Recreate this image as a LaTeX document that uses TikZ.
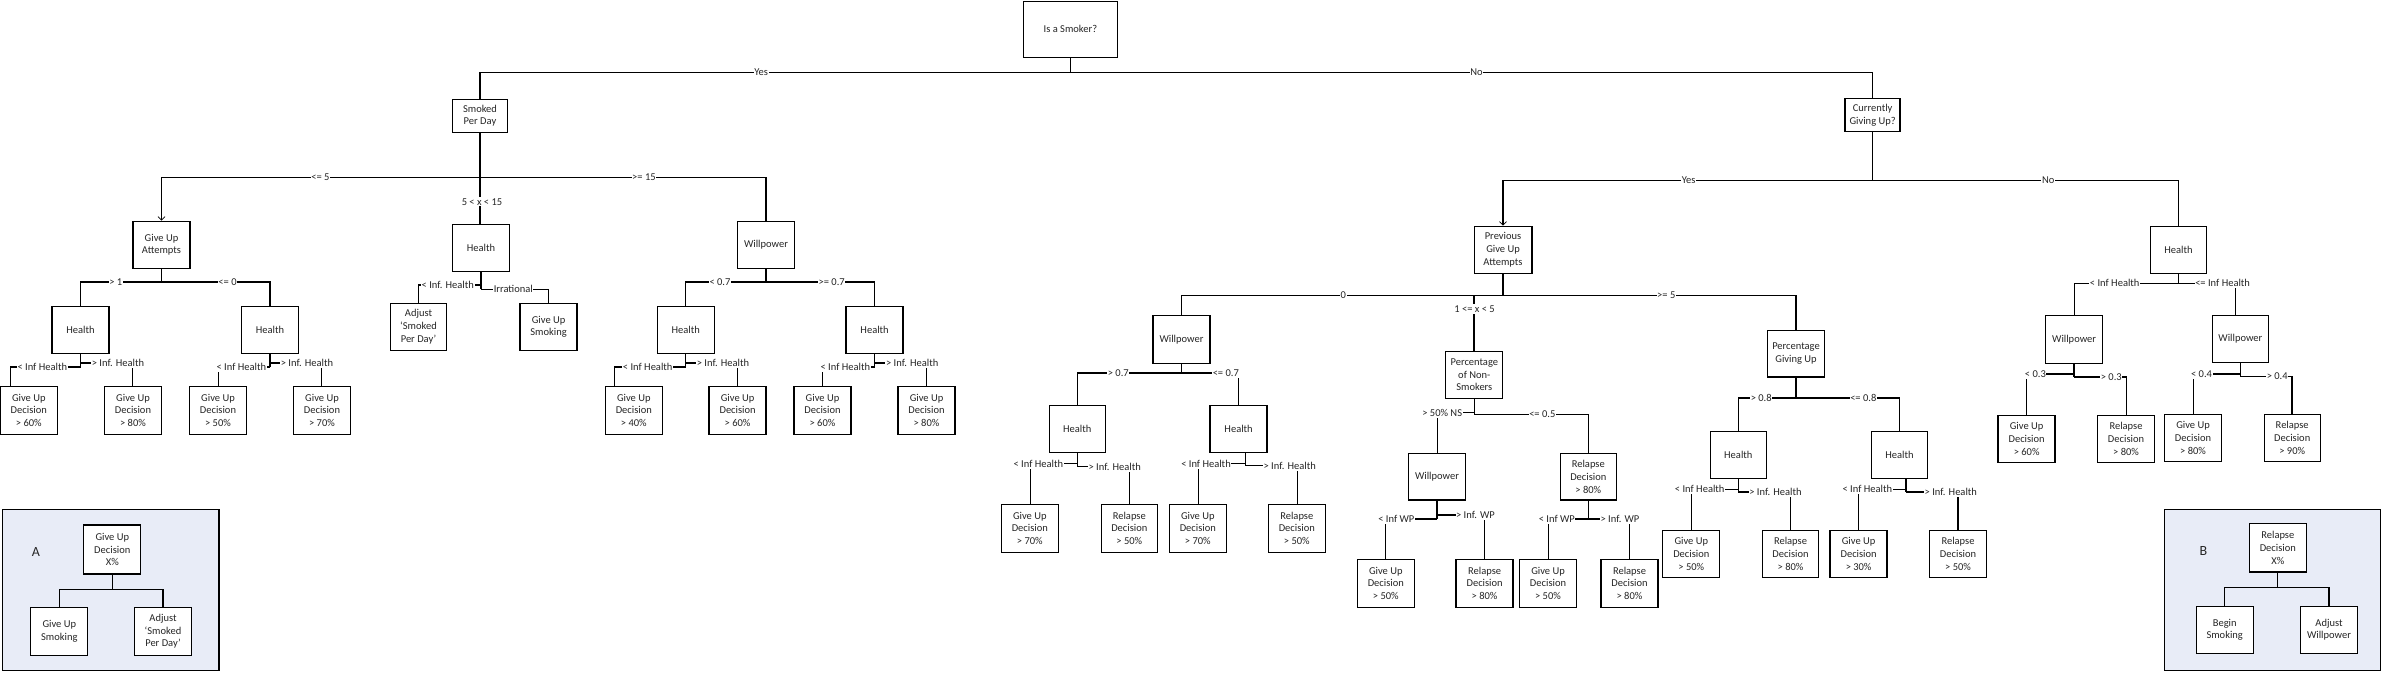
\documentclass[tikz,border=0pt]{standalone}
\usepackage{fontspec}
\setmainfont{Carlito}
\usetikzlibrary{arrows.meta}
\definecolor{legcol}{HTML}{E8ECF7}
\definecolor{txt}{HTML}{262626}
% stem from a parent down to the split level
\newcommand\stem[2]{\draw (#1.south) -- (#1.south |- 0,#2);}
\newcommand\stemx[3]{\draw (#1.south -| #2,0) -- (#2,#3);}
% branch from the split level under parent to a child (centred)
\newcommand\brc[4][]{\draw[#1] (#2.south |- 0,#3) -| (#4.north);}
% branch to a child, entering it at x
\newcommand\brn[5][]{\draw[#1] (#2.south |- 0,#3) -- (#4,#3) -- (#5.north -| #4,0);}
% branch from an offset stem at x=#3
\newcommand\brx[6][]{\draw[#1] (#2.south -| #3,0) ++(0,0) (#3,#4) -- (#5,#4) -- (#6.north -| #5,0);}
\begin{document}
\begin{tikzpicture}[x=1pt,y=-1pt,line width=1.3pt,
  box/.style={draw,fill=white,align=center,inner sep=0pt,minimum width=57pt,minimum height=47pt,font=\fontsize{10.5}{12.7}\selectfont,text=txt},
  leaf/.style={box,minimum height=48pt},
  small/.style={box,minimum width=55pt,minimum height=33pt},
  lbl/.style={fill=white,inner xsep=0.6pt,inner ysep=1.2pt,font=\fontsize{10.5}{12.7}\selectfont,text=txt},
  legbg/.style={draw,fill=legcol,inner sep=0pt,line width=1.1pt},
  letter/.style={font=\fontsize{14}{16}\selectfont,text=txt},
  arr/.style={-{Straight Barb[length=3.5pt,width=7pt,line width=0.8pt]}}]
\useasboundingbox (0,0) rectangle (2381,672);

% ---------- legends ----------
\node[legbg,minimum width=216.3pt,minimum height=161pt] (legA) at (110.85,589.8) {};
\node[letter] (letA) at (36,551.7) {A};
\node[box,minimum height=49pt] (la1) at (112.3,549.5) {Give Up\\Decision\\X\%};
\node[leaf] (la2) at (59.3,631.3) {Give Up\\Smoking};
\node[leaf] (la3) at (163,631.3) {Adjust\\‘Smoked\\Per Day’};
\stem{la1}{589.3}
\brc{la1}{589.3}{la2}
\brc{la1}{589.3}{la3}

\node[legbg,minimum width=216pt,minimum height=161pt] (legB) at (2272.3,589.8) {};
\node[letter] (letB) at (2203.3,551) {B};
\node[box,minimum height=48.7pt] (lb1) at (2277.8,547.7) {Relapse\\Decision\\X\%};
\node[box] (lb2) at (2224.7,629.8) {Begin\\Smoking};
\node[box] (lb3) at (2329,629.8) {Adjust\\Willpower};
\stem{lb1}{587.3}
\brc{lb1}{587.3}{lb2}
\brc{lb1}{587.3}{lb3}

% ---------- top ----------
\node[box,minimum width=94pt,minimum height=56pt] (root) at (1070.4,29.2) {Is a Smoker?};
\node[small] (spd) at (480,115.8) {Smoked\\Per Day};
\node[small] (cgu) at (1872.6,115) {Currently\\Giving Up?};

% ---------- left subtree ----------
\node[box] (gua) at (161.5,244.8) {Give Up\\Attempts};
\node[box] (hmid) at (481,247.8) {Health};
\node[box] (wp1) at (766,244.8) {Willpower};
\node[box] (h1) at (80.5,329.8) {Health};
\node[box] (h2) at (270,329.8) {Health};
\node[leaf] (l1) at (28.8,410.3) {Give Up\\Decision\\> 60\%};
\node[leaf] (l2) at (133,410.3) {Give Up\\Decision\\> 80\%};
\node[leaf] (l3) at (218,410.3) {Give Up\\Decision\\> 50\%};
\node[leaf] (l4) at (322,410.3) {Give Up\\Decision\\> 70\%};
\node[box,minimum width=56pt] (adj) at (418.5,326.8) {Adjust\\‘Smoked\\Per Day’};
\node[box] (gus) at (548.6,326.8) {Give Up\\Smoking};
\node[box] (h3) at (685.8,329.8) {Health};
\node[box] (h4) at (874.6,329.8) {Health};
\node[leaf] (l5) at (633.8,410.3) {Give Up\\Decision\\> 40\%};
\node[leaf] (l6) at (737.6,410.3) {Give Up\\Decision\\> 60\%};
\node[leaf] (l7) at (822.5,410.3) {Give Up\\Decision\\> 60\%};
\node[leaf] (l8) at (926.5,410.3) {Give Up\\Decision\\> 80\%};

% ---------- right subtree ----------
\node[box,minimum width=57.7pt] (pga) at (1503,249.8) {Previous\\Give Up\\Attempts};
\node[box,minimum width=56pt] (hno) at (2178.4,249.8) {Health};
\node[box,minimum height=48pt] (wp2) at (1181.5,339.3) {Willpower};
\node[box] (pns) at (1474.3,374.8) {Percentage\\of Non-\\Smokers};
\node[box,minimum height=46.7pt] (pgu) at (1796,353.7) {Percentage\\Giving Up};
\node[box,minimum width=56pt] (h5) at (1077.3,428.8) {Health};
\node[box] (h6) at (1238.6,428.8) {Health};
\node[leaf] (l9) at (1029.8,528.3) {Give Up\\Decision\\> 70\%};
\node[leaf,minimum width=56pt] (l10) at (1129.3,528.3) {Relapse\\Decision\\> 50\%};
\node[leaf] (l11) at (1197.8,528.3) {Give Up\\Decision\\> 70\%};
\node[leaf] (l12) at (1296.8,528.3) {Relapse\\Decision\\> 50\%};
\node[box,minimum height=46.7pt] (wp3) at (1437,476.7) {Willpower};
\node[box,minimum width=56pt,minimum height=46.7pt] (rd1) at (1588.3,476.7) {Relapse\\Decision\\> 80\%};
\node[leaf] (l13) at (1385.8,583.3) {Give Up\\Decision\\> 50\%};
\node[leaf] (l14) at (1484.6,583.3) {Relapse\\Decision\\> 80\%};
\node[leaf] (l15) at (1548,583.3) {Give Up\\Decision\\> 50\%};
\node[leaf] (l16) at (1629.5,583.3) {Relapse\\Decision\\> 80\%};
\node[box,minimum width=56pt] (h7) at (1738.3,454.8) {Health};
\node[box,minimum width=56pt] (h8) at (1899.5,454.8) {Health};
\node[box] (l17) at (1691.3,553.8) {Give Up\\Decision\\> 50\%};
\node[box,minimum width=56pt] (l18) at (1790.5,553.8) {Relapse\\Decision\\> 80\%};
\node[box] (l19) at (1858.6,553.8) {Give Up\\Decision\\> 30\%};
\node[box] (l20) at (1958,553.8) {Relapse\\Decision\\> 50\%};
\node[box,minimum height=47.6pt] (wp4) at (2074.1,339.5) {Willpower};
\node[box,minimum width=56pt,minimum height=46.6pt] (wp5) at (2240.4,339) {Willpower};
\node[box] (l21) at (2026.6,438.8) {Give Up\\Decision\\> 60\%};
\node[box] (l22) at (2126,438.8) {Relapse\\Decision\\> 80\%};
\node[box] (l23) at (2193,437.8) {Give Up\\Decision\\> 80\%};
\node[box,minimum width=56pt] (l24) at (2292.2,437.8) {Relapse\\Decision\\> 90\%};

% ---------- connectors ----------
\draw (root.south) -- (root.south |- 0,72.3);
\draw (spd.north) |- (cgu.north |- 0,72.3) -- (cgu.north);
% smoked per day
\draw (spd.south) -- (spd.south |- hmid.north);
\brc[arr]{spd}{177.3}{gua}
\brc{spd}{177.3}{wp1}
% give up attempts
\stem{gua}{282}
\brc{gua}{282}{h1}
\brc{gua}{282}{h2}
\stem{h1}{367}
\brn{h1}{367}{10.3}{l1}
\brn{h1}{363}{132.3}{l2}
\stem{h2}{367}
\brn{h2}{367}{218.7}{l3}
\brn{h2}{363}{321.3}{l4}
% health (middle)
\stem{hmid}{289.3}
\brn{hmid}{285}{418.7}{adj}
\brn{hmid}{289.3}{548.3}{gus}
% willpower (>=15)
\stem{wp1}{282}
\brc{wp1}{282}{h3}
\brc{wp1}{282}{h4}
\stem{h3}{367}
\brn{h3}{367}{614.7}{l5}
\brn{h3}{363}{737.3}{l6}
\stem{h4}{367}
\brn{h4}{367}{822.3}{l7}
\brn{h4}{363}{926.3}{l8}
% currently giving up
\stem{cgu}{180.3}
\brc[arr]{cgu}{180.3}{pga}
\brc{cgu}{180.3}{hno}
% previous give up attempts
\stem{pga}{295.3}
\brc{pga}{295.3}{wp2}
\brc{pga}{295.3}{pgu}
\brx{pga}{1474}{295.3}{1474}{pns}
\stem{wp2}{373}
\brc{wp2}{373}{h5}
\brc{wp2}{373}{h6}
\stem{h5}{466.7}
\brn{h5}{463.7}{1030.7}{l9}
\brn{h5}{466.7}{1129.3}{l10}
\stemx{h6}{1245.7}{465.7}
\brx{h6}{1245.7}{463.7}{1198.7}{l11}
\brx{h6}{1245.7}{465.7}{1297.3}{l12}
\stem{pns}{414.3}
\brn{pns}{412.7}{1437.3}{wp3}
\brn{pns}{414.3}{1588.3}{rd1}
\stem{wp3}{519}
\brn{wp3}{519}{1385.7}{l13}
\brn{wp3}{515}{1484.3}{l14}
\stem{rd1}{519}
\brn{rd1}{519}{1548.3}{l15}
\brn{rd1}{519}{1629.3}{l16}
\stem{pgu}{398}
\brc{pgu}{398}{h7}
\brn{pgu}{398}{1899.8}{h8}
\stem{h7}{492}
\brn{h7}{489.3}{1691.7}{l17}
\brn{h7}{492}{1790.7}{l18}
\stemx{h8}{1906}{492}
\brx{h8}{1906}{489.3}{1858.3}{l19}
\brx{h8}{1906}{492}{1958}{l20}
% health (not giving up)
\stem{hno}{283.3}
\brn{hno}{283.3}{2074.2}{wp4}
\brn{hno}{283.3}{2235.4}{wp5}
\stem{wp4}{377}
\brn{wp4}{374}{2026.4}{l21}
\brn{wp4}{377}{2126.3}{l22}
\stem{wp5}{376.3}
\brn{wp5}{374}{2193.4}{l23}
\brn{wp5}{376.3}{2291.9}{l24}

% ---------- connector labels ----------
\node[lbl] (t1) at (761.2,72.3) {Yes};
\node[lbl] (t2) at (1476.5,72.3) {No};
\node[lbl] (t3) at (320.4,177.3) {<= 5};
\node[lbl] (t4) at (643.9,177.3) {>= 15};
\node[lbl] (t5) at (482,201.7) {5 < x < 15};
\node[lbl] (t6) at (115.8,282) {> 1};
\node[lbl] (t7) at (227.5,282) {<= 0};
\node[lbl] (t8) at (42.3,367) {< Inf Health};
\node[lbl] (t9) at (118,363) {> Inf. Health};
\node[lbl] (t10) at (241.3,367) {< Inf Health};
\node[lbl] (t11) at (307,363) {> Inf. Health};
\node[lbl] (t12) at (447.8,285) {< Inf. Health};
\node[lbl] (t13) at (513.3,289.3) {Irrational};
\node[lbl] (t14) at (720,282) {< 0.7};
\node[lbl] (t15) at (831.7,282) {>= 0.7};
\node[lbl] (t16) at (647.7,367) {< Inf Health};
\node[lbl] (t17) at (723,363) {> Inf. Health};
\node[lbl] (t18) at (845.3,367) {< Inf Health};
\node[lbl] (t19) at (912.2,363) {> Inf. Health};
\node[lbl] (t20) at (1688.6,180.3) {Yes};
\node[lbl] (t21) at (2048.2,180.3) {No};
\node[lbl] (t22) at (1343.3,295.3) {0};
\node[lbl] (t23) at (1474.5,309) {1 <= x < 5};
\node[lbl] (t24) at (1666.3,295.3) {>= 5};
\node[lbl] (t25) at (1118.3,373) {> 0.7};
\node[lbl] (t26) at (1225.8,373) {<= 0.7};
\node[lbl] (t27) at (1038.3,463.7) {< Inf Health};
\node[lbl] (t28) at (1114.7,466.7) {> Inf. Health};
\node[lbl] (t29) at (1206,463.7) {< Inf Health};
\node[lbl] (t30) at (1289.7,465.7) {> Inf. Health};
\node[lbl] (t31) at (1442.2,412.7) {> 50\% NS};
\node[lbl] (t32) at (1542.3,414.3) {<= 0.5};
\node[lbl] (t33) at (1396.3,519) {< Inf WP};
\node[lbl] (t34) at (1475.5,515) {> Inf. WP};
\node[lbl] (t35) at (1556.8,519) {< Inf WP};
\node[lbl] (t36) at (1620,519) {> Inf. WP};
\node[lbl] (t37) at (1761.2,398) {> 0.8};
\node[lbl] (t38) at (1863.3,398) {<= 0.8};
\node[lbl] (t39) at (1699.7,489.3) {< Inf Health};
\node[lbl] (t40) at (1775.5,492) {> Inf. Health};
\node[lbl] (t41) at (1867.3,489.3) {< Inf Health};
\node[lbl] (t42) at (1950.8,492) {> Inf. Health};
\node[lbl] (t43) at (2114.7,283.3) {< Inf Health};
\node[lbl] (t44) at (2222.6,283.3) {<= Inf Health};
\node[lbl] (t45) at (2035.4,374) {< 0.3};
\node[lbl] (t46) at (2111.3,377) {> 0.3};
\node[lbl] (t47) at (2201.5,374) {< 0.4};
\node[lbl] (t48) at (2277.2,376.3) {> 0.4};
\end{tikzpicture}
\end{document}
